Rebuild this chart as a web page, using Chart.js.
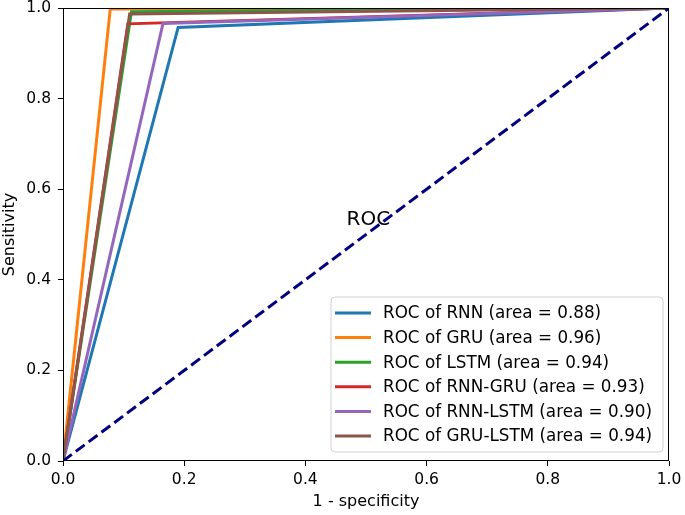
<!DOCTYPE html>
<html lang="en">
<head>
  <meta charset="utf-8"/>
  <title>ROC curves</title>
  <script src="https://cdn.jsdelivr.net/npm/chart.js"></script>
  <style>
    html, body { margin: 0; padding: 0; background: #fff; }
    #wrap { width: 685px; height: 515px; }
  </style>
</head>
<body>
<div id="wrap"><canvas id="roc" width="685" height="515"></canvas></div>
<script>
  // ROC operating points: (0,0) -> (fpr, tpr) -> (1,1)
  const models = ['RNN', 'GRU', 'LSTM', 'RNN-GRU', 'RNN-LSTM', 'GRU-LSTM'];
  const areas = ['0.88', '0.96', '0.94', '0.93', '0.90', '0.94'];
  const fpr = [0.19, 0.078, 0.113, 0.107, 0.165, 0.110];
  const tpr = [0.957, 0.998, 0.992, 0.965, 0.966, 0.987];
  const colors = ['#1f77b4', '#ff7f0e', '#2ca02c', '#d62728', '#9467bd', '#8c564b'];
  const ticks = [0, 0.2, 0.4, 0.6, 0.8, 1.0];
  const FONT = 'DejaVu Sans';

  // later series on top, like matplotlib
  const datasets = models.map((m, i) => ({
    label: 'ROC of ' + m + ' (area = ' + areas[i] + ')',
    data: [{ x: 0, y: 0 }, { x: fpr[i], y: tpr[i] }, { x: 1, y: 1 }],
    borderColor: colors[i],
    borderWidth: 3,
    showLine: true,
    pointRadius: 0,
    tension: 0,
    clip: 0,
    order: 10 - i
  }));
  // chance line
  datasets.push({
    label: 'chance',
    data: [{ x: 0, y: 0 }, { x: 1, y: 1 }],
    borderColor: '#000080',
    borderWidth: 3,
    borderDash: [11, 5],
    showLine: true,
    pointRadius: 0,
    clip: 0,
    order: 0
  });

  // frame, "ROC" note and legend box drawn on top
  const extras = {
    id: 'extras',
    afterDatasetsDraw(chart) {
      const { ctx, chartArea: a, scales } = chart;
      ctx.save();
      ctx.strokeStyle = '#000';
      ctx.lineWidth = 1;
      ctx.strokeRect(a.left + 0.5, a.top + 0.5, a.right - a.left - 1, a.bottom - a.top - 1);

      ctx.fillStyle = '#000';
      ctx.font = '20px "' + FONT + '"';
      ctx.textBaseline = 'alphabetic';
      ctx.fillText('ROC', scales.x.getPixelForValue(0.468), scales.y.getPixelForValue(0.522));

      // legend
      const bx = 331, by = 297, bw = 332, bh = 155, r = 4;
      ctx.beginPath();
      ctx.moveTo(bx + r, by);
      ctx.arcTo(bx + bw, by, bx + bw, by + bh, r);
      ctx.arcTo(bx + bw, by + bh, bx, by + bh, r);
      ctx.arcTo(bx, by + bh, bx, by, r);
      ctx.arcTo(bx, by, bx + bw, by, r);
      ctx.closePath();
      ctx.fillStyle = 'rgba(255,255,255,0.85)';
      ctx.fill();
      ctx.strokeStyle = '#d0d0d0';
      ctx.stroke();

      ctx.font = '16.8px "' + FONT + '"';
      ctx.textBaseline = 'middle';
      models.forEach((m, i) => {
        const y = 313 + i * 24.6;
        ctx.strokeStyle = colors[i];
        ctx.lineWidth = 3;
        ctx.beginPath();
        ctx.moveTo(335, y);
        ctx.lineTo(371, y);
        ctx.stroke();
        ctx.fillStyle = '#000';
        ctx.fillText(datasets[i].label, 383, y + 1);
      });
      ctx.restore();
    }
  };

  const axisCommon = {
    type: 'linear',
    min: 0,
    max: 1,
    grid: { display: true, drawOnChartArea: false, drawTicks: true, tickLength: 5, color: '#000', tickWidth: 1 },
    border: { display: false },
    ticks: {
      font: { family: FONT, size: 15.5 },
      color: '#000',
      padding: 5,
      callback: v => ticks.includes(Math.round(v * 10) / 10) ? v.toFixed(1) : ''
    },
    afterBuildTicks: s => { s.ticks = ticks.map(v => ({ value: v })); }
  };

  new Chart(document.getElementById('roc'), {
    type: 'scatter',
    data: { datasets },
    plugins: [extras],
    options: {
      responsive: false,
      animation: false,
      layout: { padding: { left: 0, right: 16, top: 8, bottom: 0 } },
      plugins: { legend: { display: false }, tooltip: { enabled: false } },
      scales: {
        x: Object.assign({}, axisCommon, {
          title: { display: true, text: '1 - specificity', font: { family: FONT, size: 16 }, color: '#000', padding: { top: 3, bottom: 4 } },
          afterFit: s => { s.height = 54; s.paddingLeft = 0; s.paddingRight = 0; }
        }),
        y: Object.assign({}, axisCommon, {
          ticks: Object.assign({}, axisCommon.ticks, { padding: 7 }),
          title: { display: true, text: 'Sensitivity', font: { family: FONT, size: 16 }, color: '#000', padding: { top: 0, bottom: 2 } },
          afterFit: s => { s.width = 63; s.paddingTop = 0; s.paddingBottom = 0; }
        })
      }
    }
  });
</script>
</body>
</html>
